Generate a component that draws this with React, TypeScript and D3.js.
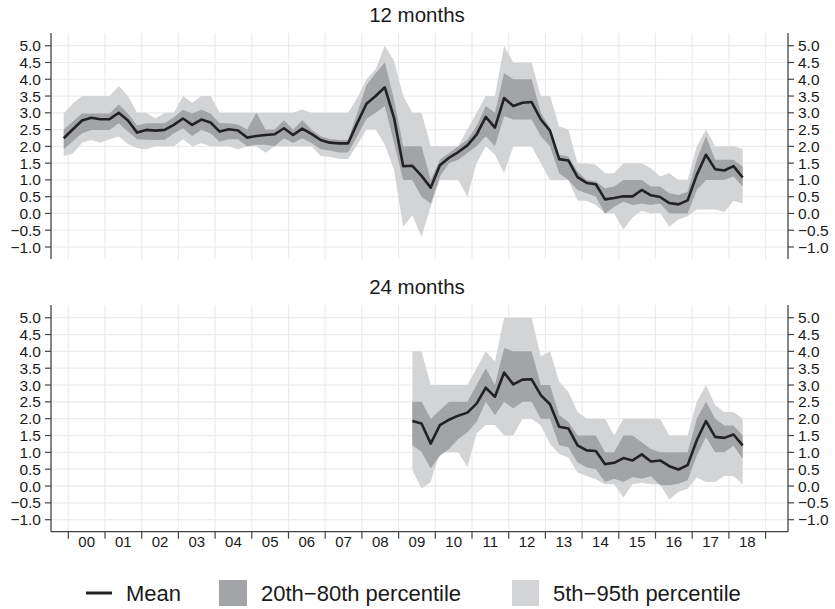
import React from "react";
import * as d3 from "d3";

// Quarterly observation dates, 1999Q4 .. 2018Q2 (mid-quarter)
const QUARTERS: number[] = d3.range(75).map((i) => 1999.875 + i * 0.25);
const YEAR_LABELS = ["00","01","02","03","04","05","06","07","08","09","10","11","12","13","14","15","16","17","18"];
const Y_TICKS = [-1.0, -0.5, 0.0, 0.5, 1.0, 1.5, 2.0, 2.5, 3.0, 3.5, 4.0, 4.5, 5.0];

// 12-month-ahead expectations
const mean12 = [
  2.24, 2.51, 2.77, 2.85, 2.81, 2.81, 3.0, 2.77, 2.41, 2.49, 2.47, 2.49, 2.64, 2.83, 2.64, 2.8, 2.71, 2.44, 2.51, 2.47,
  2.26, 2.31, 2.34, 2.36, 2.54, 2.34, 2.53, 2.37, 2.19, 2.11, 2.09, 2.09, 2.7, 3.27, 3.5, 3.76, 2.85, 1.41, 1.42, 1.12,
  0.77, 1.44, 1.66, 1.83, 2.03, 2.35, 2.88, 2.56, 3.44, 3.2, 3.3, 3.32, 2.8, 2.47, 1.62, 1.58, 1.08, 0.91, 0.87, 0.42,
  0.46, 0.51, 0.51, 0.7, 0.54, 0.49, 0.31, 0.27, 0.39, 1.15, 1.75, 1.32, 1.28, 1.41, 1.07,
];
const p95_12 = [
  2.98, 3.28, 3.5, 3.5, 3.5, 3.5, 3.8, 3.5, 3.0, 3.0, 2.83, 3.0, 3.0, 3.5, 3.3, 3.5, 3.5, 3.0, 3.0, 3.0,
  3.0, 3.0, 3.0, 3.0, 3.0, 3.0, 3.1, 3.0, 3.0, 3.0, 3.0, 3.0, 3.45, 4.0, 4.3, 5.0, 4.55, 3.5, 3.0, 3.0,
  2.0, 2.0, 2.0, 2.0, 2.5, 3.0, 3.5, 3.5, 5.0, 4.5, 4.5, 4.5, 3.5, 3.5, 2.6, 2.5, 1.5, 1.5, 1.45, 1.2,
  1.2, 1.5, 1.5, 1.5, 1.35, 1.1, 1.2, 1.0, 1.0, 2.0, 2.5, 2.0, 2.0, 2.0, 1.92,
];
const p5_12 = [
  1.71, 1.79, 2.11, 2.19, 2.11, 2.21, 2.29, 2.07, 1.94, 1.91, 2.0, 2.0, 2.0, 2.21, 2.0, 2.09, 2.0, 2.0, 2.0, 1.91,
  2.0, 2.0, 1.81, 2.0, 2.0, 2.0, 2.0, 2.0, 1.71, 1.69, 1.62, 1.62, 2.05, 2.5, 2.5, 2.05, 1.3, -0.4, -0.05, -0.7,
  0.2, 1.0, 1.0, 1.0, 0.5, 1.5, 2.0, 1.75, 1.2, 2.0, 2.0, 2.0, 1.5, 1.0, 1.0, 1.0, 0.38, 0.38, 0.25, 0.0,
  0.0, -0.48, -0.12, 0.08, 0.0, 0.02, -0.4, -0.18, -0.08, 0.12, 0.12, 0.12, 0.04, 0.38, 0.3,
];
const p80_12 = [
  2.5, 2.74, 2.98, 2.98, 2.98, 2.98, 3.25, 2.98, 2.62, 2.69, 2.69, 2.69, 2.87, 3.09, 2.98, 3.09, 2.98, 2.69, 2.69, 2.65,
  2.5, 3.0, 2.5, 2.5, 2.78, 2.5, 2.78, 2.5, 2.3, 2.22, 2.19, 2.19, 3.0, 3.83, 4.18, 4.5, 3.4, 2.0, 2.0, 2.0,
  1.0, 1.6, 1.8, 2.0, 2.2, 2.6, 3.2, 3.0, 4.18, 4.0, 4.0, 4.0, 3.0, 2.55, 1.75, 1.7, 1.25, 1.0, 0.95, 0.75,
  0.8, 1.0, 1.0, 1.0, 0.8, 0.8, 0.6, 0.55, 0.65, 1.6, 2.3, 1.6, 1.6, 1.6, 1.4,
];
const p20_12 = [
  1.91, 2.15, 2.39, 2.49, 2.49, 2.49, 2.69, 2.44, 2.21, 2.2, 2.19, 2.19, 2.39, 2.54, 2.31, 2.49, 2.39, 2.14, 2.21, 2.21,
  2.0, 2.05, 2.05, 2.0, 2.24, 2.1, 2.24, 2.1, 1.91, 1.88, 1.82, 1.82, 2.3, 2.82, 3.0, 3.2, 2.1, 1.0, 1.0, 0.5,
  0.3, 1.1, 1.5, 1.6, 1.8, 2.0, 2.3, 2.0, 2.9, 2.8, 2.8, 2.8, 2.3, 2.0, 1.2, 1.0, 0.7, 0.6, 0.5, 0.0,
  0.2, 0.35, 0.25, 0.3, 0.25, 0.3, 0.0, 0.0, 0.0, 0.7, 1.0, 1.0, 1.0, 1.1, 0.8,
];

// 24-month-ahead expectations (survey question starts in 2009)
const N24 = 38; // quarters before the first 24-month observation
const pad = (a: number[]): (number | null)[] => [...Array(N24).fill(null), ...a];
const mean24 = pad([
  1.93, 1.86, 1.26, 1.81, 1.97, 2.09, 2.18, 2.45, 2.92, 2.65, 3.37, 3.02, 3.16, 3.17, 2.7, 2.43, 1.76, 1.71, 1.21, 1.06,
  1.04, 0.65, 0.69, 0.83, 0.76, 0.94, 0.73, 0.76, 0.59, 0.49, 0.62, 1.36, 1.93, 1.46, 1.43, 1.53, 1.21,
]);
const p95_24 = pad([
  4.0, 4.0, 3.0, 3.0, 3.0, 3.0, 3.0, 3.5, 4.0, 3.7, 5.0, 5.0, 5.0, 5.0, 3.85, 4.0, 3.1, 2.8, 2.2, 2.0,
  2.0, 2.0, 1.5, 2.0, 2.0, 2.0, 2.0, 2.0, 1.5, 1.5, 1.5, 2.5, 3.0, 2.4, 2.2, 2.2, 2.0,
]);
const p5_24 = pad([
  0.47, -0.08, 0.12, 1.0, 1.0, 1.0, 0.56, 1.56, 1.81, 1.81, 1.5, 1.5, 2.0, 2.0, 1.8, 1.25, 0.95, 0.85, 0.4, 0.3,
  0.2, 0.05, 0.05, -0.35, 0.05, 0.1, 0.05, 0.05, -0.4, -0.18, -0.08, 0.25, 0.12, 0.12, 0.3, 0.3, 0.05,
]);
const p80_24 = pad([
  2.5, 2.5, 2.0, 2.25, 2.5, 2.5, 2.5, 3.0, 3.5, 3.0, 4.1, 4.0, 4.0, 4.0, 3.0, 3.0, 2.1, 1.9, 1.5, 1.5,
  1.5, 1.0, 1.0, 1.5, 1.5, 1.3, 1.1, 1.0, 1.0, 1.0, 1.0, 2.0, 2.5, 2.0, 1.8, 1.8, 1.5,
]);
const p20_24 = pad([
  1.21, 1.01, 0.52, 0.9, 1.1, 1.4, 1.6, 1.9, 2.5, 2.1, 2.5, 2.3, 2.5, 2.5, 2.0, 2.0, 1.21, 1.15, 0.7, 0.55,
  0.5, 0.12, 0.22, 0.12, 0.27, 0.22, 0.29, 0.02, 0.02, 0.07, 0.17, 0.9, 1.46, 1.0, 1.0, 1.2, 0.81,
]);

const W = 835;
const H = 609;
const FONT = "'Liberation Sans', Arial, Helvetica, sans-serif";
const LIGHT = "#d3d4d6";
const DARK = "#a3a4a7";
const LINE = "#222222";
const GRID = "#ececec";
const AXIS = "#444444";

const LEFT = 51;
const RIGHT = 788;
const x = d3.scaleLinear().domain([2000, 2019]).range([68.3, 765.6]);

type PanelProps = {
  title: string;
  top: number;
  bottom: number;
  mean: (number | null)[];
  p5: (number | null)[];
  p95: (number | null)[];
  p20: (number | null)[];
  p80: (number | null)[];
  xAxis: boolean;
};

function Panel({ title, top, bottom, mean, p5, p95, p20, p80, xAxis }: PanelProps) {
  // 5.0 sits 12.7px below the panel top, -1.0 sits 12px above its bottom
  const y = d3.scaleLinear().domain([-1.0, 5.0]).range([bottom - 12, top + 12.7]);
  const idx = d3.range(QUARTERS.length);
  const band = (lo: (number | null)[], hi: (number | null)[]) =>
    d3
      .area<number>()
      .defined((i) => lo[i] != null && hi[i] != null)
      .x((i) => x(QUARTERS[i]))
      .y0((i) => y(lo[i] as number))
      .y1((i) => y(hi[i] as number))(idx) || "";
  const line =
    d3
      .line<number>()
      .defined((i) => mean[i] != null)
      .x((i) => x(QUARTERS[i]))
      .y((i) => y(mean[i] as number))(idx) || "";
  const years = d3.range(2000, 2020);
  return (
    <g>
      <text x={417} y={top - 11} textAnchor="middle" fontFamily={FONT} fontSize={20.5} fill="#1a1a1a">
        {title}
      </text>
      {Y_TICKS.map((t) => (
        <line key={"h" + t} x1={LEFT} x2={RIGHT} y1={y(t)} y2={y(t)} stroke={GRID} strokeWidth={1.2} />
      ))}
      {years.map((yr) => (
        <line key={"v" + yr} x1={x(yr)} x2={x(yr)} y1={top} y2={bottom} stroke={GRID} strokeWidth={1.2} />
      ))}
      <path d={band(p5, p95)} fill={LIGHT} />
      <path d={band(p20, p80)} fill={DARK} />
      <path d={line} fill="none" stroke={LINE} strokeWidth={2.6} strokeLinejoin="round" />
      <line x1={LEFT} x2={LEFT} y1={top} y2={bottom} stroke={AXIS} strokeWidth={1.3} />
      <line x1={RIGHT} x2={RIGHT} y1={top} y2={bottom} stroke={AXIS} strokeWidth={1.3} />
      {Y_TICKS.map((t) => (
        <g key={"t" + t}>
          <line x1={LEFT - 6} x2={LEFT} y1={y(t)} y2={y(t)} stroke={AXIS} strokeWidth={1.2} />
          <line x1={RIGHT} x2={RIGHT + 6} y1={y(t)} y2={y(t)} stroke={AXIS} strokeWidth={1.2} />
          <text x={LEFT - 10} y={y(t)} dy="0.36em" textAnchor="end" fontFamily={FONT} fontSize={15.5} fill="#1a1a1a">
            {d3.format(".1f")(t).replace("-", "\u2212")}
          </text>
          <text x={RIGHT + 10} y={y(t)} dy="0.36em" textAnchor="start" fontFamily={FONT} fontSize={15.5} fill="#1a1a1a">
            {d3.format(".1f")(t).replace("-", "\u2212")}
          </text>
        </g>
      ))}
      {xAxis && (
        <g>
          <line x1={LEFT} x2={RIGHT} y1={bottom} y2={bottom} stroke={AXIS} strokeWidth={1.3} />
          {years.map((yr) => (
            <line key={"xt" + yr} x1={x(yr)} x2={x(yr)} y1={bottom} y2={bottom + 7} stroke={AXIS} strokeWidth={1.2} />
          ))}
          {YEAR_LABELS.map((lab, k) => (
            <text
              key={"xl" + lab}
              x={x(2000 + k + 0.5)}
              y={bottom + 15.5}
              textAnchor="middle"
              fontFamily={FONT}
              fontSize={15}
              fill="#1a1a1a"
            >
              {lab}
            </text>
          ))}
        </g>
      )}
    </g>
  );
}

export default function App() {
  return (
    <svg
      width={W}
      height={H}
      viewBox={`0 0 ${W} ${H}`}
      style={{ position: "absolute", left: 0, top: 0, background: "#fff" }}
    >
      <rect width={W} height={H} fill="#fff" />
      <Panel title="12 months" top={33} bottom={259} mean={mean12} p5={p5_12} p95={p95_12} p20={p20_12} p80={p80_12} xAxis={false} />
      <Panel title="24 months" top={305} bottom={531.7} mean={mean24} p5={p5_24} p95={p95_24} p20={p20_24} p80={p80_24} xAxis={true} />
      <g fontFamily={FONT} fontSize={22} fill="#1a1a1a">
        <line x1={86} x2={112} y1={593} y2={593} stroke={LINE} strokeWidth={3} />
        <text x={126} y={601}>Mean</text>
        <rect x={219} y={580} width={28} height={26} fill={DARK} />
        <text x={261} y={601}>20th{"\u2212"}80th percentile</text>
        <rect x={512} y={580} width={27} height={26} fill={LIGHT} />
        <text x={553} y={601}>5th{"\u2212"}95th percentile</text>
      </g>
    </svg>
  );
}
